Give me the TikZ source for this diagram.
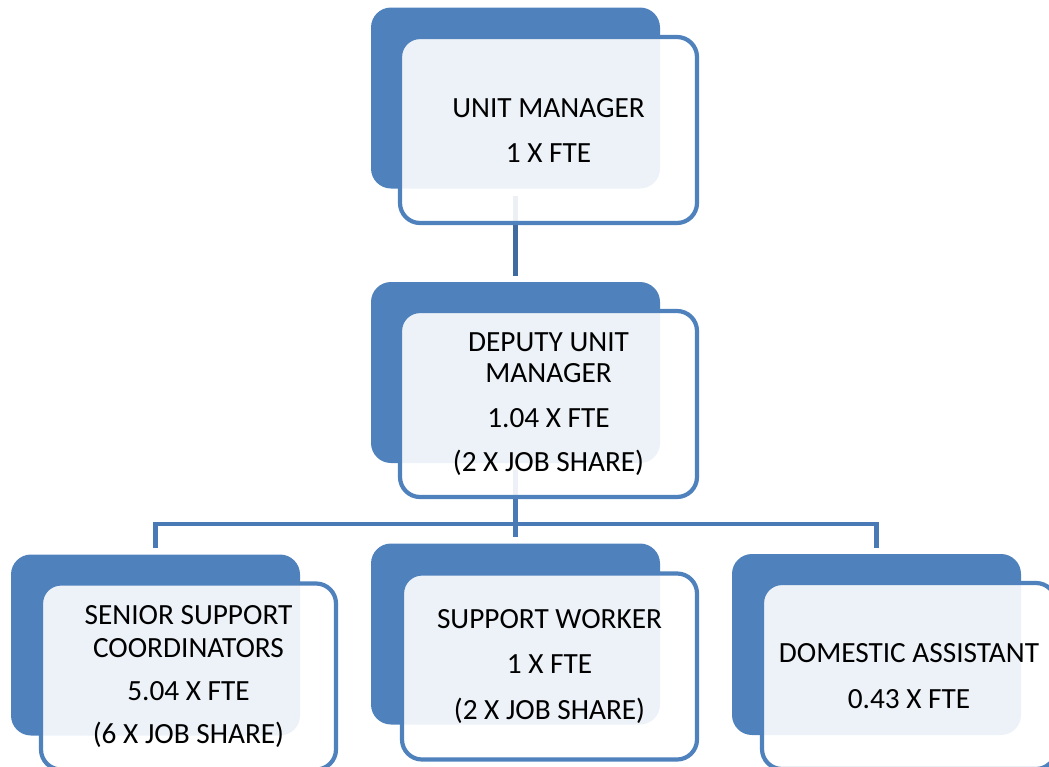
\documentclass[tikz,border=0pt]{standalone}
\usepackage{fontspec}
\setmainfont{Carlito}
\definecolor{boxblue}{HTML}{4F81BD}
\definecolor{lineblue}{HTML}{4A7AB6}
\definecolor{darkline}{HTML}{3F6BA0}
\tikzset{
  backbox/.style={rectangle, rounded corners=20pt, fill=boxblue, draw=none,
    minimum width=289pt, minimum height=181pt, inner sep=0pt},
  frontbox/.style={rectangle, rounded corners=20pt, draw=boxblue, line width=4.2pt,
    fill=white, fill opacity=0.9, text opacity=1, draw opacity=1,
    minimum width=297pt, minimum height=186pt, align=center, inner sep=0pt,
    font=\fontsize{29.3}{31.5}\selectfont},
  conn/.style={draw=lineblue, line width=4.5pt}
}
\begin{document}
\begin{tikzpicture}[x=1pt, y=-1pt]
  \clip (0,0) rectangle (1049,766);
  % back boxes
  \node[backbox] (um-back)  at (515.5,98) {};
  \node[backbox] (dum-back) at (515.5,372.5) {};
  \node[backbox] (ssc-back) at (155.5,645) {};
  \node[backbox] (sw-back)  at (515.5,634) {};
  \node[backbox] (da-back)  at (876.5,644.5) {};
  % connectors
  \coordinate (bus) at (515.5,524);
  \draw[conn, draw=darkline, shorten <=7pt, shorten >=6pt] (um-back.south) -- (dum-back.north);
  \draw[conn, shorten <=7pt, shorten >=6pt] (dum-back.south) -- (sw-back.north);
  \draw[conn, shorten <=6pt, shorten >=6pt] (ssc-back.north) |- (bus) -| (da-back.north);
  % front boxes
  \node[frontbox] (um)  at (548.5,130) {UNIT MANAGER\\[13.5pt]1 X FTE};
  \node[frontbox] (dum) at (548.5,404) {DEPUTY UNIT\\MANAGER\\[13.5pt]1.04 X FTE\\[12.5pt](2 X JOB SHARE)};
  \node[frontbox, minimum width=295pt] (ssc) at (188.5,676.5) {SENIOR SUPPORT\\[1.5pt]COORDINATORS\\[12pt]5.04 X FTE\\[11pt](6 X JOB SHARE)};
  \node[frontbox, minimum width=295pt] (sw)  at (549.5,666.5) {SUPPORT WORKER\\[13.5pt]1 X FTE\\[15pt](2 X JOB SHARE)};
  \node[frontbox, minimum width=294pt] (da)  at (909,676) {DOMESTIC ASSISTANT\\[14.5pt]0.43 X FTE};
\end{tikzpicture}
\end{document}
